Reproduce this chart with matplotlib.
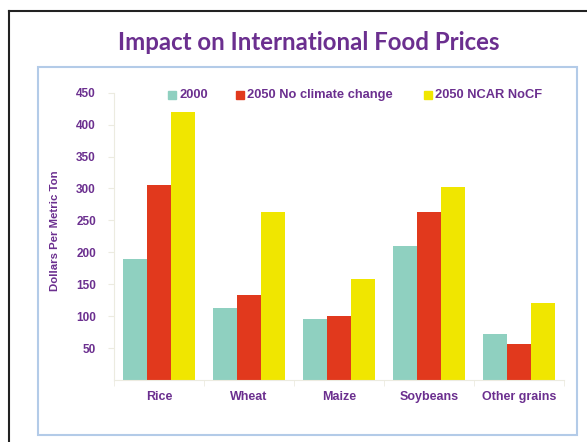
import matplotlib
matplotlib.use("Agg")
import matplotlib.pyplot as plt
from matplotlib.patches import Rectangle
import numpy as np

categories = ["Rice", "Wheat", "Maize", "Soybeans", "Other grains"]
series_names = ["2000", "2050 No climate change", "2050 NCAR NoCF"]
v2000 = [189, 113, 95, 210, 72]
v2050 = [305, 133, 100, 263, 56]
vncar = [419, 263, 158, 302, 120]
yticks = [50, 100, 150, 200, 250, 300, 350, 400, 450]

colors = ["#8fd0c0", "#e1391d", "#f0e600"]
purple = "#6b2f8f"
W, H = 587, 442

fig = plt.figure(figsize=(W / 100, H / 100), dpi=100)
fig.patch.set_facecolor("white")

# outer black frame
fig.add_artist(plt.Line2D([9 / W, 9 / W], [0, 1 - 11 / H], color="#222222", lw=1.5, transform=fig.transFigure))
fig.add_artist(plt.Line2D([9 / W, 1], [1 - 11 / H, 1 - 11 / H], color="#222222", lw=1.5, transform=fig.transFigure))
# inner light blue box
fig.add_artist(Rectangle((38 / W, 1 - 435 / H), (577 - 38) / W, (435 - 67) / H,
                         transform=fig.transFigure, fill=False, edgecolor="#b3cbe8", lw=1.5))

fig.text(309 / W, 1 - 43 / H, "Impact on International Food Prices", ha="center", va="center",
         fontsize=17.3, fontweight="bold", color=purple, family="Lato")

ax = fig.add_axes([114 / W, 1 - 380 / H, (564 - 114) / W, (380 - 92.7) / H])
x = np.arange(len(categories))
w = 0.27
for i, (vals, c) in enumerate(zip([v2000, v2050, vncar], colors)):
    ax.bar(x + (i - 1) * w, vals, width=w, color=c, edgecolor="none", zorder=2)

ax.set_xlim(-0.5, len(categories) - 0.5)
ax.set_ylim(0, 450)
ax.set_yticks(yticks)
ax.set_yticklabels([str(t) for t in yticks], fontsize=8.5, fontweight="bold", color=purple,
                   family="Liberation Sans")
ax.set_xticks(x)
ax.set_xticklabels(categories, fontsize=9, fontweight="bold", color=purple, family="Liberation Sans")
ax.set_xticks(np.arange(-0.5, len(categories)), minor=True)
ax.tick_params(axis="x", which="major", length=0, pad=8)
ax.tick_params(axis="x", which="minor", length=4, color="#ecebe0", direction="out")
ax.tick_params(axis="y", length=4, color="#ecebe0", pad=9)
for s in ["top", "right"]:
    ax.spines[s].set_visible(False)
for s in ["left", "bottom"]:
    ax.spines[s].set_color("#ecebe0")
ax.set_ylabel("Dollars Per Metric Ton", fontsize=8.2, fontweight="bold", color=purple,
              family="Liberation Sans")
ax.yaxis.set_label_coords((60 - 114) / (564 - 114), (380 - 231) / (380 - 92.7))

# legend
leg_x = [172, 240, 428]
for name, c, lx in zip(series_names, colors, leg_x):
    fig.add_artist(Rectangle(((lx - 4) / W, 1 - 99 / H), 8 / W, 8 / H, transform=fig.transFigure,
                             color=c))
    fig.text((lx + 7) / W, 1 - 95 / H, name, ha="left", va="center", fontsize=9.3,
             fontweight="bold", color=purple, family="Liberation Sans")

fig.savefig("out.png", dpi=100)
